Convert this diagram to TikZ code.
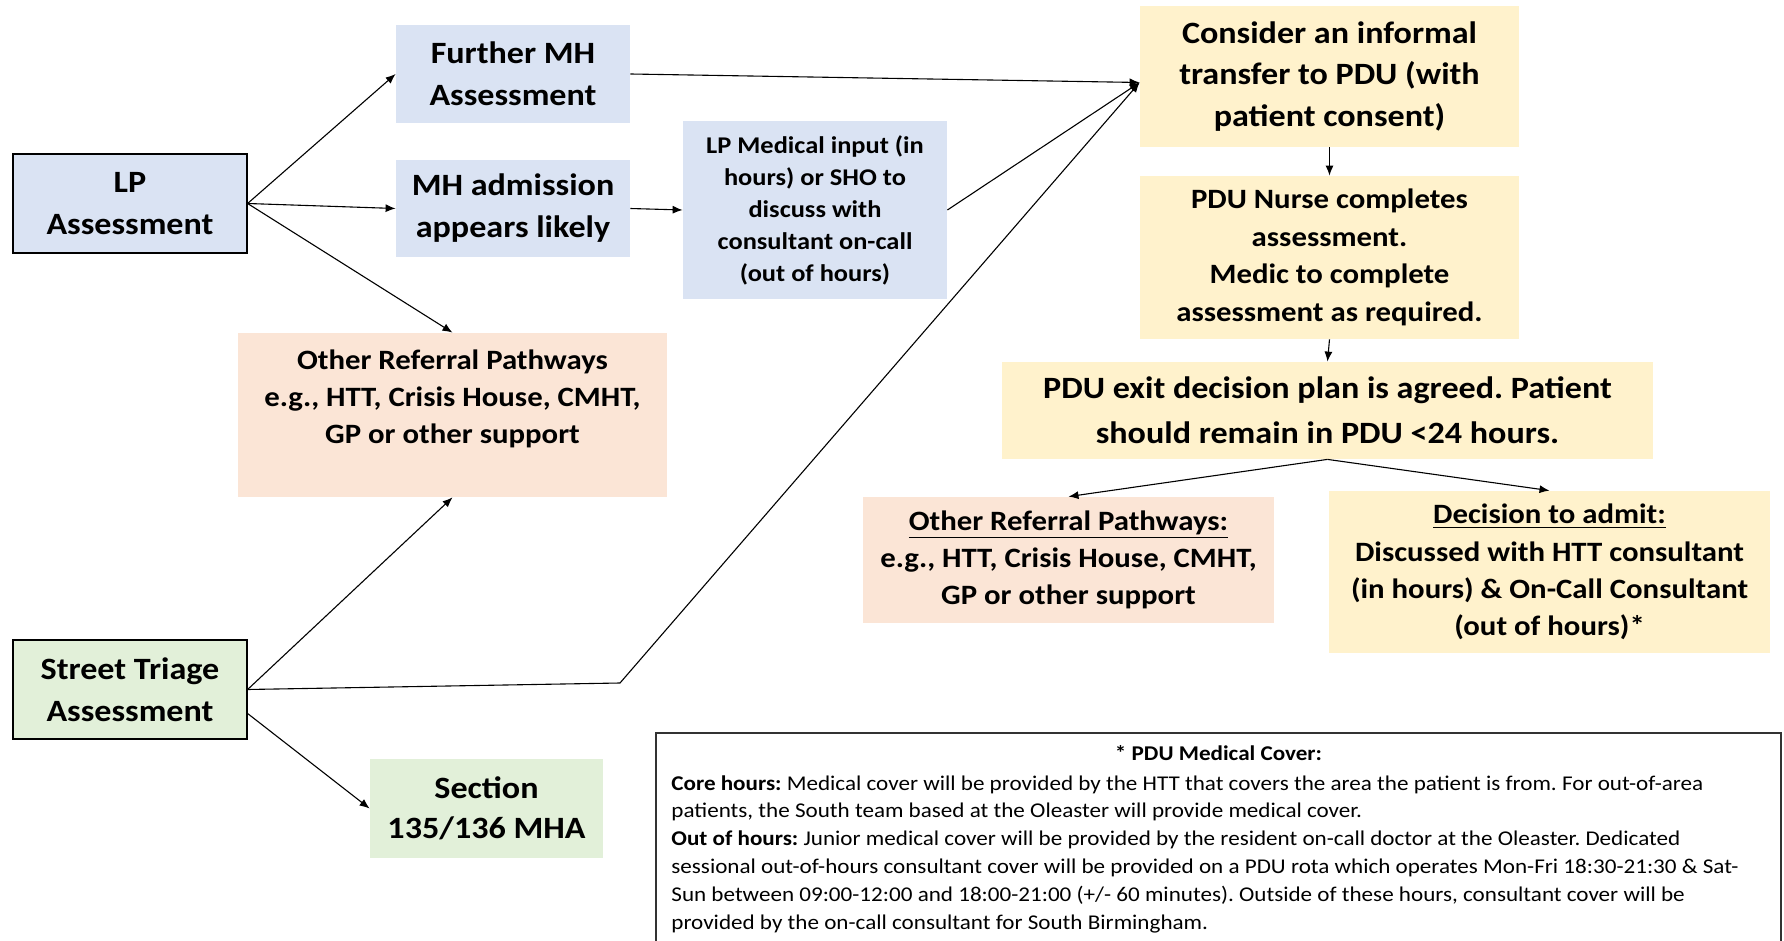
\documentclass[tikz,border=0pt]{standalone}
\usepackage{fontspec}
\setmainfont{Carlito}[FakeStretch=1.1]
\newfontfamily\notefont{Carlito}[FakeStretch=1.1]
\usetikzlibrary{arrows.meta}
\definecolor{cblue}{HTML}{DAE3F3}
\definecolor{cpeach}{HTML}{FBE5D6}
\definecolor{cyellow}{HTML}{FFF2CC}
\definecolor{cgreen}{HTML}{E2F0D9}
\frenchspacing
\tikzset{
  box/.style={inner sep=0pt, align=center},
  bigtxt/.style={font=\fontsize{15.5}{21}\selectfont\bfseries},
  midtxt/.style={font=\fontsize{14}{18.6}\selectfont\bfseries},
  smalltxt/.style={font=\fontsize{12}{16}\selectfont\bfseries},
  outlined/.style={draw=black, line width=0.6pt},
  arr/.style={-{Latex[length=5pt,width=4pt]}, line width=0.55pt},
}
\begin{document}
\begin{tikzpicture}[x=0.5pt,y=-0.5pt]
\useasboundingbox (0,0) rectangle (1784,941);
\fill[white] (0,0) rectangle (1784,941);

% left column
\node[box, outlined, fill=cblue, bigtxt, minimum width=117pt, minimum height=49.5pt] (LP) at (130,203.5) {LP\\Assessment};
\node[box, outlined, fill=cgreen, bigtxt, minimum width=117pt, minimum height=49.5pt] (Street) at (130,689.5) {Street Triage\\Assessment};

% second column
\node[box, fill=cblue, bigtxt, minimum width=117pt, minimum height=49pt] (Further) at (513,74) {Further MH\\Assessment};
\node[box, fill=cblue, bigtxt, minimum width=117pt, minimum height=48.5pt] (MHadm) at (513,208.5) {MH admission\\appears likely};
\node[box, fill=cpeach, minimum width=214.5pt, minimum height=82pt] (OtherL) at (452.5,415) {};
\node[box, midtxt] (OtherLtxt) at (452.5,399) {Other Referral Pathways\\e.g., HTT, Crisis House, CMHT,\\GP or other support};
\node[box, fill=cgreen, font=\fontsize{15.5}{20}\selectfont\bfseries, minimum width=116.5pt, minimum height=49.5pt] (Section) at (486.5,808.5) {Section\\135/136 MHA};

% LP medical input
\node[box, fill=cblue, smalltxt, minimum width=132pt, minimum height=89pt] (LPMed) at (815,210) {LP Medical input (in\\hours) or SHO to\\discuss with\\consultant on-call\\(out of hours)};

% right column
\node[box, fill=cyellow, font=\fontsize{15.5}{20.75}\selectfont\bfseries, minimum width=189.5pt, minimum height=70.5pt] (Consider) at (1329.5,76.5) {Consider an informal\\transfer to PDU (with\\patient consent)};
\node[box, fill=cyellow, font=\fontsize{14}{18.75}\selectfont\bfseries, minimum width=189.5pt, minimum height=81.5pt] (Nurse) at (1329.5,257.5) {PDU Nurse completes\\assessment.\\Medic to complete\\assessment as required.};
\node[box, fill=cyellow, font=\fontsize{15.5}{22.5}\selectfont\bfseries, minimum width=325.5pt, minimum height=48.5pt] (Exit) at (1327.5,410.5) {PDU exit decision plan is agreed. Patient\\should remain in PDU <24 hours.};
\node[box, fill=cpeach, midtxt, minimum width=205.5pt, minimum height=63pt] (OtherR) at (1068.5,560) {\underline{Other Referral Pathways:}\\e.g., HTT, Crisis House, CMHT,\\GP or other support};
\node[box, fill=cyellow, midtxt, minimum width=220.5pt, minimum height=81pt] (Decision) at (1549.5,572) {\underline{Decision to admit:}\\Discussed with HTT consultant\\(in hours) \& On-Call Consultant\\(out of hours)*};

% note box
\node[box, draw=black!80, line width=0.6pt, fill=white, minimum width=562.5pt, minimum height=110pt] (Note) at (1218.5,843) {};
\node[box, font=\notefont\fontsize{10.5}{13.9}\selectfont\bfseries] (NoteTitle) at (1218.5,753) {* PDU Medical Cover:};
\node[inner sep=0pt, align=left, anchor=north west, font=\notefont\fontsize{10.5}{13.9}\selectfont] (NoteBody) at (671,775) {%
\textbf{Core hours:} Medical cover will be provided by the HTT that covers the area the patient is from. For out-of-area\\
patients, the South team based at the Oleaster will provide medical cover.\\
\textbf{Out of hours:} Junior medical cover will be provided by the resident on-call doctor at the Oleaster. Dedicated\\
sessional out-of-hours consultant cover will be provided on a PDU rota which operates Mon-Fri 18:30-21:30 \& Sat-\\
Sun between 09:00-12:00 and 18:00-21:00 (+/- 60 minutes). Outside of these hours, consultant cover will be\\
provided by the on-call consultant for South Birmingham.};

% connectors
\coordinate (bend) at (620,683);
\draw[arr] (LP.east) -- (Further.west);
\draw[arr] (LP.east) -- (MHadm.west);
\draw[arr] (LP.east) -- (OtherL.north);
\draw[arr] (MHadm.east) -- (LPMed.west);
\draw[arr] (Further.east) -- ([yshift=-3pt]Consider.west);
\draw[arr] (LPMed.east) -- ([yshift=-3pt]Consider.west);
\draw[arr] (Street.east) -- (bend) -- ([yshift=-3pt]Consider.west);
\draw[arr] (Street.east) -- (OtherL.south);
\draw[arr] ([yshift=-12pt]Street.east) -- (Section.west);
\draw[arr] (Consider.south) -- (Nurse.north);
\draw[arr] (Nurse.south) -- (Exit.north);
\draw[arr] (Exit.south) -- (OtherR.north);
\draw[arr] (Exit.south) -- (Decision.north);
\end{tikzpicture}
\end{document}
